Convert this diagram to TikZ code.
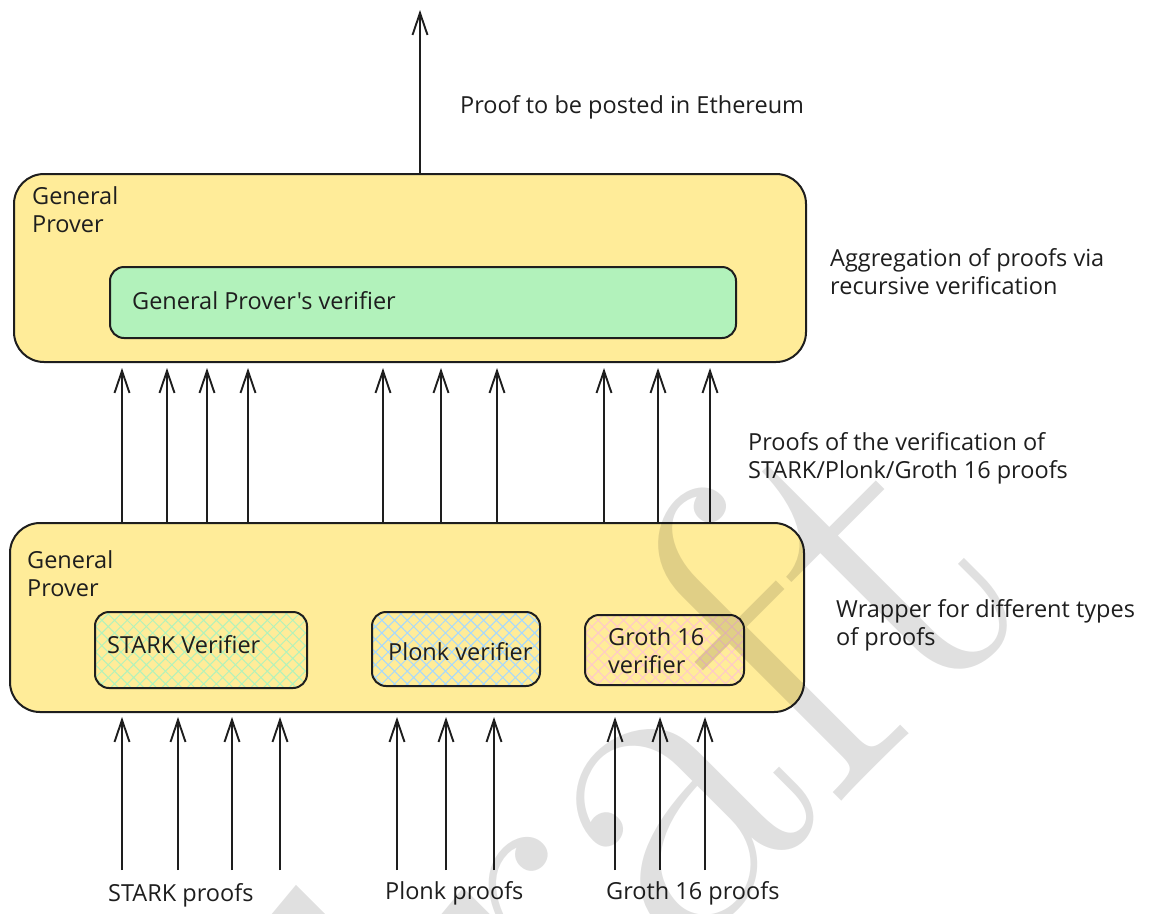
\documentclass[tikz,border=0pt]{standalone}
\usepackage{fontspec}
\newfontfamily\hand{Open Sans}
\usetikzlibrary{arrows.meta,patterns.meta}

\definecolor{ink}{HTML}{1E1E1E}
\definecolor{boxyellow}{HTML}{FFEC99}
\definecolor{boxgreen}{HTML}{B2F2BB}
\definecolor{hatchgreen}{HTML}{B2F2BB}
\definecolor{hatchblue}{HTML}{A5D8FF}
\definecolor{hatchpink}{HTML}{FFC9C9}

\tikzset{
  txt/.style={font=\hand\fontsize{23.5}{28}\selectfont, text=ink, inner sep=0pt, align=left},
  prover/.style={draw=ink, line width=2pt, fill=boxyellow, rounded corners=30pt, inner sep=0pt},
  verbox/.style={draw=ink, line width=2pt, rounded corners=14pt, inner sep=0pt},
  hatched/.style={pattern={Hatch[angle=45,distance=9pt,line width=1pt]}, pattern color=#1},
  arr/.style={draw=ink, line width=1.9pt, -{Straight Barb[length=22pt,width=15pt,line width=1.9pt]}},
}

\begin{document}
\begin{tikzpicture}[x=1pt,y=-1pt]
\useasboundingbox (0,0) rectangle (1150,913);

% ---- upper prover with its verifier ----
\node[prover, minimum width=792pt, minimum height=188pt] (upper) at (410,268) {};
\node[txt, anchor=north west] (upname) at (32,186) {General\\Prover};
\node[verbox, fill=boxgreen, minimum width=626pt, minimum height=71pt] (gpv) at (423,302.5) {};
\node[txt, anchor=west] (gpvtext) at (132,301) {General Prover's verifier};

% ---- lower prover wrapping the three verifiers ----
\node[prover, minimum width=794pt, minimum height=189pt] (lower) at (407,617.5) {};
\node[txt, anchor=north west] (lowname) at (27,550) {General\\Prover};

\node[verbox, hatched=hatchgreen, minimum width=212pt, minimum height=76pt] (stark) at (201,650) {};
\node[txt, anchor=west] (starktext) at (107,645) {STARK Verifier};
\node[verbox, hatched=hatchblue, minimum width=168pt, minimum height=74pt] (plonk) at (456,649) {};
\node[txt, anchor=west] (plonktext) at (388,652) {Plonk verifier};
\node[verbox, hatched=hatchpink, minimum width=159pt, minimum height=70pt] (groth) at (664.5,650) {};
\node[txt, anchor=west] (grothtext) at (608,651) {Groth 16\\verifier};

% ---- side notes ----
\node[txt, anchor=west] (posted) at (460,107) {Proof to be posted in Ethereum};
\node[txt, anchor=west] (aggr) at (830,272) {Aggregation of proofs via\\recursive verification};
\node[txt, anchor=west] (vproofs) at (748,458) {Proofs of the verification of\\STARK/Plonk/Groth 16 proofs};
\node[txt, anchor=west] (wrap) at (836,625) {Wrapper for different types\\of proofs};

% ---- input labels ----
\node[txt, anchor=west] (starkin) at (108,895) {STARK proofs};
\node[txt, anchor=west] (plonkin) at (385,893) {Plonk proofs};
\node[txt, anchor=west] (grothin) at (606,893) {Groth 16 proofs};

% ---- output arrow ----
\coordinate (sky) at (420,10);
\draw[arr] (upper.north -| sky) -- (sky);

% ---- arrows between the two provers ----
\foreach \x [count=\i] in {122,167,207,248,383,441,497,604,658,710} {
  \coordinate (m\i) at (\x,522);
  \draw[arr, shorten >=5pt] (m\i) -- (m\i |- upper.south);
}

% ---- incoming proofs ----
\foreach \x [count=\i] in {122,178,232,280,397,446,494,615,660,705} {
  \coordinate (p\i) at (\x,870);
  \draw[arr, shorten >=4pt] (p\i) -- (p\i |- lower.south);
}

% ---- watermark ----
\node[text=black, text opacity=0.12, rotate=45, inner sep=0pt,
      font=\fontsize{470}{470}\selectfont] (wm) at (600,812) {draft};
\end{tikzpicture}
\end{document}
